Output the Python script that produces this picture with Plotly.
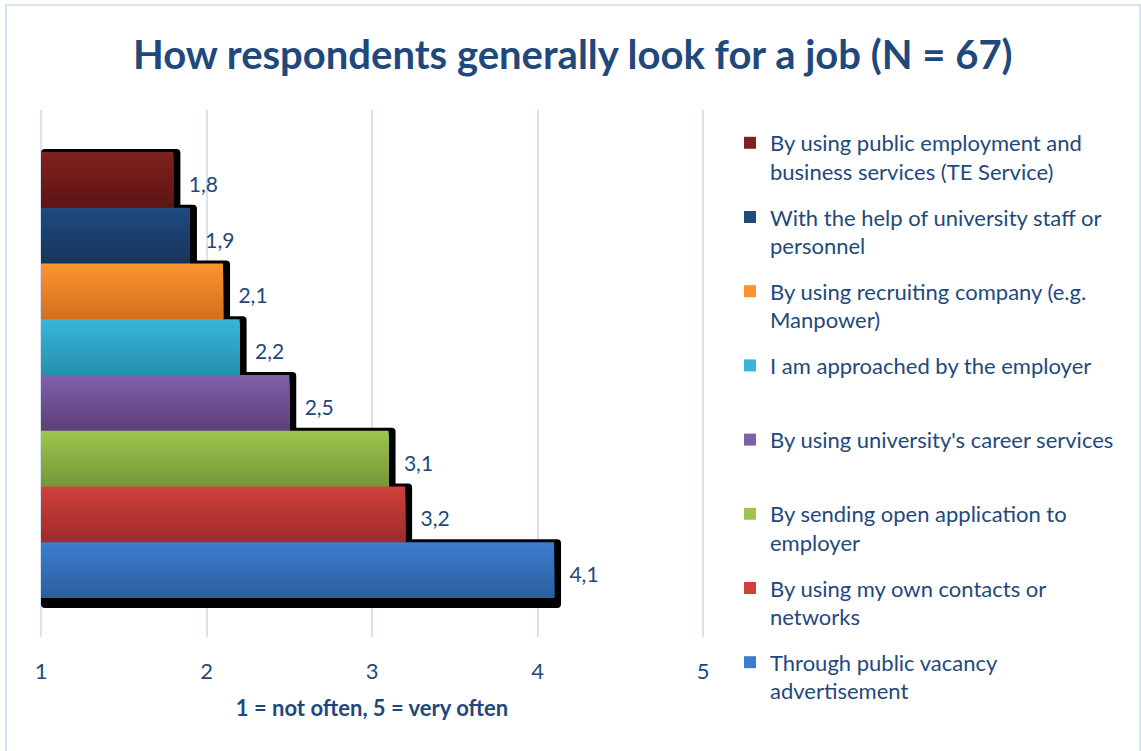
import plotly.graph_objects as go

# Survey answers, listed top to bottom
categories = [
    "By using public employment and<br>business services (TE Service)",
    "With the help of university staff or<br>personnel",
    "By using recruiting company (e.g.<br>Manpower)",
    "I am approached by the employer<br>\u00a0",
    "By using university's career services<br>\u00a0",
    "By sending open application to<br>employer",
    "By using my own contacts or<br>networks",
    "Through public vacancy<br>advertisement",
]
values = [1.8, 1.9, 2.1, 2.2, 2.5, 3.1, 3.2, 4.1]
tick_values = [1, 2, 3, 4, 5]
tick_labels = ["1", "2", "3", "4", "5"]

# gradient colours (top, bottom) for each bar
colors_top = ["#80211e", "#1f4b80", "#fd9431", "#38b6da", "#8160ab", "#9ec64b", "#d1403c", "#3c7ecf"]
colors_bottom = ["#5d1513", "#16355c", "#d2701f", "#2690ad", "#5d3f79", "#76963a", "#9e2b2b", "#2c5e9e"]

TEXT = "#1f497d"
GRID = "#d7e3f3"
FONT = "Lato, 'Open Sans', sans-serif"

# pixel geometry: value 1 sits at x=41, value 5 at x=703; the plot area is a few
# pixels wider so the grid lines at both ends are still drawn
X1_PX, X5_PX = 41, 703
L, R, T, B = 37, 707, 110, 637
unit_px = (X5_PX - X1_PX) / 4
x_range = [1 - (X1_PX - L) / unit_px, 5 + (R - X5_PX) / unit_px]
y_range = [-1.2, 8.253]
px_per_y = (B - T) / (y_range[1] - y_range[0])

N_STRIPS = 24


def hex_to_rgb(h):
    h = h.lstrip("#")
    return tuple(int(h[i:i + 2], 16) for i in (0, 2, 4))


def blend(c0, c1, t):
    a, b = hex_to_rgb(c0), hex_to_rgb(c1)
    return "rgb(%d,%d,%d)" % tuple(round(a[i] + (b[i] - a[i]) * t) for i in range(3))


fig = go.Figure()
n = len(values)
sh_up, sh_down, sh_right = 3 / px_per_y, 10 / px_per_y, 7 / unit_px

# drop shadows go underneath every bar
for i, v in enumerate(values):
    yc = n - 1 - i  # top bar at highest y
    fig.add_trace(go.Bar(
        orientation="h",
        x=[v - 1 + sh_right], base=1,
        y=[yc + (sh_up - sh_down) / 2],
        width=[1 + sh_up + sh_down],
        marker=dict(color="#000000", line=dict(width=0), cornerradius=4),
        text=["\u00a0" + f"{v:.1f}".replace(".", ",")],
        textposition="outside",
        textfont=dict(family=FONT, size=21, color=TEXT),
        cliponaxis=False,
        showlegend=False,
        hoverinfo="skip",
    ))

# bars start at 1; each is painted as nested strips (every strip reaching the bar
# bottom) to give a vertical gradient
for i, (name, v) in enumerate(zip(categories, values)):
    yc = n - 1 - i
    ys, ws, cols = [], [], []
    for k in range(N_STRIPS):
        top = yc + 0.5 - k / N_STRIPS
        bottom = yc - 0.5
        ys.append((top + bottom) / 2)
        ws.append(top - bottom)
        cols.append(blend(colors_top[i], colors_bottom[i], (k + 0.5) / N_STRIPS))
    fig.add_trace(go.Bar(
        orientation="h",
        x=[v - 1] * N_STRIPS, base=1, y=ys, width=ws,
        marker=dict(color=cols, line=dict(width=0)),
        name=name,
        legendgroup=f"g{i}",
        hovertemplate=f"{v}<extra></extra>",
    ))

fig.update_layout(
    width=1141, height=751,
    margin=dict(l=L, r=1141 - R, t=T, b=751 - B, autoexpand=False),
    paper_bgcolor="white", plot_bgcolor="white",
    barmode="overlay",
    title=dict(
        text="<b>How respondents generally look for a job (N = 67)</b>",
        x=0.502, xanchor="center", xref="container", y=0.927, yanchor="middle",
        font=dict(family=FONT, size=40, color=TEXT),
    ),
    xaxis=dict(
        range=x_range, tickvals=tick_values, ticktext=tick_labels,
        showgrid=True, gridcolor=GRID, gridwidth=2,
        zeroline=False, showline=False, ticks="",
        ticklabelstandoff=19,
        tickfont=dict(family=FONT, size=22, color=TEXT),
        title=dict(text="<b>1 = not often, 5 = very often</b>", standoff=17,
                   font=dict(family=FONT, size=22, color=TEXT)),
    ),
    yaxis=dict(range=y_range, visible=False, showgrid=False, zeroline=False),
    legend=dict(
        x=(730 - L) / (R - L), xanchor="left",
        y=(B - 122) / (B - T), yanchor="top",
        valign="top",
        traceorder="grouped",
        tracegroupgap=14,
        maxheight=740,
        font=dict(family=FONT, size=22, color=TEXT),
        bgcolor="rgba(0,0,0,0)",
    ),
    shapes=[dict(
        type="rect", xref="paper", yref="paper",
        x0=(6 - L) / (R - L), x1=(1140 - L) / (R - L),
        y0=(B - 770) / (B - T), y1=(B - 5) / (B - T),
        line=dict(color="#d5e3f3", width=2), layer="below",
    )],
)

fig.write_html("out.html")
